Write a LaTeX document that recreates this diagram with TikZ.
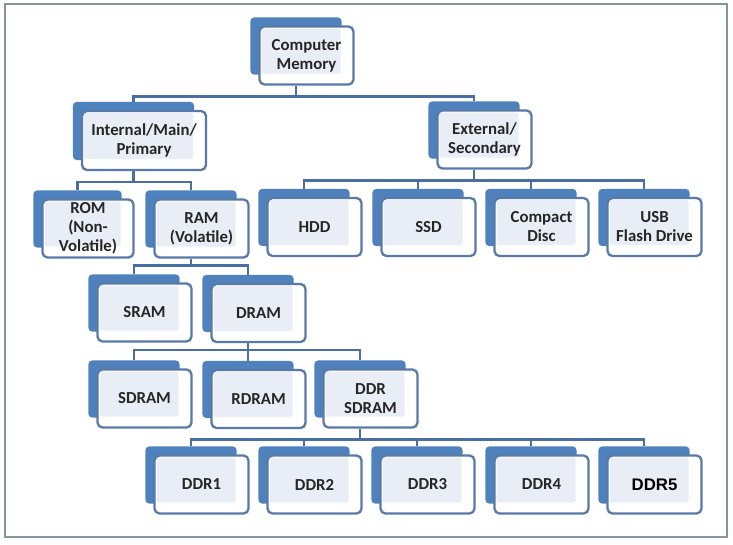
\documentclass[tikz,border=0pt]{standalone}
\usepackage{fontspec}
\setmainfont{Carlito}
\newfontfamily\arialfont{Liberation Sans}
\usepackage{tikz}
\usetikzlibrary{backgrounds}
\usepackage{xcolor}
\definecolor{memblue}{RGB}{79,129,189}
\definecolor{edgeblue}{RGB}{88,122,168}
\definecolor{linkblue}{RGB}{72,111,160}
\definecolor{innerfill}{RGB}{233,238,246}
\definecolor{textgray}{RGB}{38,38,38}
\definecolor{framegray}{RGB}{130,150,160}
\tikzstyle{membox} = [draw=edgeblue, line width=2.3pt, fill=white, rounded corners=5pt,
  minimum width=94pt, minimum height=58pt, inner sep=1pt, align=center,
  font=\fontsize{16.8}{19}\selectfont\bfseries, text=textgray,
  path picture={\fill[innerfill, rounded corners=2pt]
    ([shift={(2pt,-2pt)}]path picture bounding box.north west) rectangle
    ([shift={(-13pt,11pt)}]path picture bounding box.south east);}]
\tikzstyle{link} = [line width=2.4pt, color=linkblue]

\begin{document}
\begin{tikzpicture}[x=1pt, y=-1pt]
\useasboundingbox (0,0) rectangle (733,544);
\draw[framegray, line width=1.8pt] (5,4) rectangle (727,537);

% Memory hierarchy boxes
\node[membox] (cm) at (306.5,55.5) {Computer\\Memory};
\node[membox, minimum width=124pt, minimum height=59pt] (int) at (144,140.5) {Internal/Main/\\Primary};
\node[membox] (ext) at (484.5,139.5) {External/\\Secondary};
\node[membox, minimum width=91pt] (rom) at (88,228.5) {ROM\\(Non-\\Volatile)};
\node[membox] (ram) at (201.5,228.5) {RAM\\(Volatile)};
\node[membox] (hdd) at (314.5,227) {HDD};
\node[membox] (ssd) at (428.5,227) {SSD};
\node[membox] (cd) at (541.5,227) {Compact\\Disc};
\node[membox] (usb) at (654.5,227) {USB\\Flash Drive};
\node[membox] (sram) at (144.5,312.5) {SRAM};
\node[membox] (dram) at (258.5,313) {DRAM};
\node[membox] (sdram) at (144.5,398.5) {SDRAM};
\node[membox] (rdram) at (258.5,399) {RDRAM};
\node[membox] (ddrs) at (370.5,398.5) {DDR\\SDRAM};
\node[membox] (ddr1) at (201.5,484.5) {DDR1};
\node[membox] (ddr2) at (314.5,484.5) {DDR2};
\node[membox] (ddr3) at (427.5,484.5) {DDR3};
\node[membox] (ddr4) at (541.5,484.5) {DDR4};
\node[membox, text=black] (ddr5) at (654.5,484.5) {\arialfont DDR5};

% blue tabs behind, and link points on them
\begin{pgfonlayer}{background}
\foreach \n in {cm,int,ext,rom,ram,hdd,ssd,cd,usb,sram,dram,sdram,rdram,ddrs,ddr1,ddr2,ddr3,ddr4,ddr5} {
  \fill[memblue, rounded corners=4pt] ([shift={(-8pt,8pt)}]\n.north west) rectangle ([shift={(-13pt,11pt)}]\n.south east);
  \coordinate (\n-top) at ([shift={(-10.5pt,8pt)}]\n.north);
  \coordinate (\n-bot) at ([xshift=-10.5pt]\n.south);
}
\end{pgfonlayer}

% Connectors
\draw[link] (cm-bot) -- ++(0,11) coordinate (j0);
\draw[link] (int-top) |- (j0) -| (ext-top);
\draw[link] (int-bot) -- ++(0,11) coordinate (j1);
\draw[link] (rom-top) |- (j1) -| (ram-top);
\draw[link] (ext-bot) -- ++(0,11) coordinate (j2);
\draw[link] (hdd-top) |- (j2) -| (usb-top);
\foreach \n in {ssd,cd} \draw[link] (\n-top) -- (\n-top |- j2);
\draw[link] (ram-bot) -- ++(0,7) coordinate (j3);
\draw[link] (sram-top) |- (j3) -| (dram-top);
\draw[link] (dram-bot) -- ++(0,7) coordinate (j4);
\draw[link] (sdram-top) |- (j4) -| (ddrs-top);
\draw[link] (rdram-top) -- (rdram-top |- j4);
\draw[link] (ddrs-bot) -- ++(0,11) coordinate (j5);
\draw[link] (ddr1-top) |- (j5) -| (ddr5-top);
\foreach \n in {ddr2,ddr3,ddr4} \draw[link] (\n-top) -- (\n-top |- j5);
\end{tikzpicture}
\end{document}
